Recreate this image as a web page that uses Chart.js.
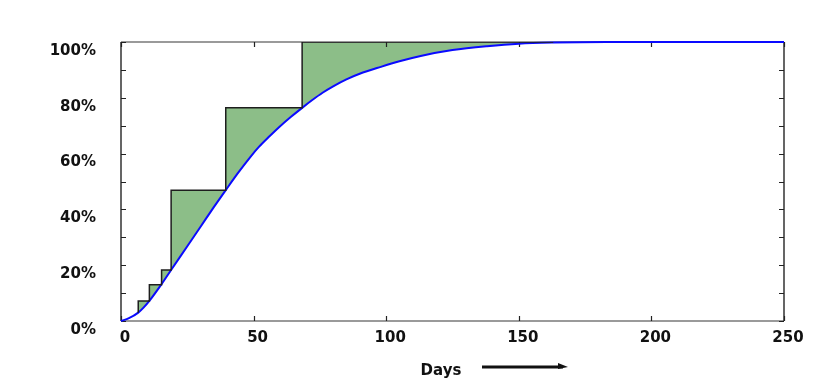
<!DOCTYPE html>
<html>
<head>
<meta charset="utf-8">
<script src="https://cdn.jsdelivr.net/npm/chart.js@4"></script>
<style>
  html, body { margin: 0; background: #fff; }
  #wrap { width: 819px; height: 383px; position: relative; }
</style>
</head>
<body>
<div id="wrap"><canvas id="chart"></canvas></div>
<script>
// cumulative share over time (smooth curve)
const curveDays = [0, 3, 6.5, 8.5, 10.7, 15.3, 18.9, 25, 30, 35, 39.5, 44, 48.6, 52, 56, 60, 64, 68.3,
  72, 76, 80, 85, 90, 98, 105, 113, 125, 138, 150, 163, 183, 250];
const curvePct = [0, 1, 3, 4.8, 7.2, 13.2, 18.3, 26.8, 33.8, 40.8, 46.9, 52.9, 58.6, 62.4, 66.2, 69.8, 73.1, 76.4,
  79.1, 81.8, 84.1, 86.6, 88.6, 91.1, 93.1, 95, 97.1, 98.5, 99.4, 99.8, 100, 100];

// step levels; each level holds from the previous step day up to this one
const stepDays = [6.5, 10.7, 15.3, 18.9, 39.5, 68.3, 163];
const stepPct = [3, 7.2, 13, 18.3, 46.9, 76.4, 100];

const xTicks = [0, 50, 100, 150, 200, 250];
const yLabels = [0, 20, 40, 60, 80, 100];

const FONT = 'DejaVu Sans';

// frame, inward tick marks, axis caption with arrow
const framePlugin = {
  id: 'frame',
  beforeDatasetsDraw(chart) {
    const { ctx, chartArea: a, scales } = chart;
    ctx.save();
    ctx.lineWidth = 1.5;
    ctx.strokeStyle = '#7a7a7a';
    ctx.beginPath();
    ctx.moveTo(a.left, a.top); ctx.lineTo(a.right, a.top);
    ctx.moveTo(a.left, a.bottom); ctx.lineTo(a.right, a.bottom);
    ctx.stroke();
    ctx.strokeStyle = '#333';
    ctx.beginPath();
    ctx.moveTo(a.left, a.top); ctx.lineTo(a.left, a.bottom);
    ctx.moveTo(a.right, a.top); ctx.lineTo(a.right, a.bottom);
    ctx.stroke();

    ctx.lineWidth = 1.2;
    ctx.strokeStyle = '#222';
    ctx.beginPath();
    scales.y.ticks.forEach(t => {
      const y = Math.round(scales.y.getPixelForValue(t.value)) + 0.5;
      ctx.moveTo(a.left, y); ctx.lineTo(a.left + 5, y);
      ctx.moveTo(a.right - 5, y); ctx.lineTo(a.right, y);
    });
    scales.x.ticks.forEach(t => {
      const x = Math.round(scales.x.getPixelForValue(t.value)) + 0.5;
      ctx.moveTo(x, a.bottom); ctx.lineTo(x, a.bottom - 5);
      ctx.moveTo(x, a.top); ctx.lineTo(x, a.top + 5);
    });
    ctx.stroke();
    ctx.restore();
  },
  afterDraw(chart) {
    const { ctx, chartArea: a } = chart;
    const cx = a.left + 320;
    const cy = a.bottom + 50;
    ctx.save();
    ctx.fillStyle = '#111';
    ctx.font = 'bold 15px "' + FONT + '"';
    ctx.textAlign = 'center';
    ctx.textBaseline = 'middle';
    ctx.fillText('Days', cx, cy);
    // arrow
    ctx.strokeStyle = '#111';
    ctx.lineWidth = 3;
    ctx.beginPath();
    ctx.moveTo(cx + 41, cy - 4);
    ctx.lineTo(cx + 122, cy - 4);
    ctx.stroke();
    ctx.beginPath();
    ctx.moveTo(cx + 117, cy - 8);
    ctx.lineTo(cx + 127, cy - 4);
    ctx.lineTo(cx + 117, cy - 2);
    ctx.closePath();
    ctx.fill();
    ctx.restore();
  }
};

new Chart(document.getElementById('chart'), {
  type: 'line',
  data: {
    datasets: [
      {
        label: 'Steps',
        data: stepDays.map((d, i) => ({ x: d, y: stepPct[i] })),
        stepped: 'after',
        borderColor: '#1e1e1e',
        borderWidth: 1.5,
        backgroundColor: '#8cbe88',
        fill: 1,
        pointRadius: 0
      },
      {
        label: 'Cumulative',
        data: curveDays.map((d, i) => ({ x: d, y: curvePct[i] })),
        borderColor: '#0a0aff',
        borderWidth: 2,
        cubicInterpolationMode: 'monotone',
        fill: false,
        pointRadius: 0,
        clip: 4
      }
    ]
  },
  options: {
    responsive: true,
    maintainAspectRatio: false,
    animation: false,
    layout: { padding: { top: 42, right: 35, left: 0, bottom: 0 } },
    plugins: {
      legend: { display: false },
      tooltip: { enabled: false },
      filler: { drawTime: 'beforeDatasetsDraw' }
    },
    scales: {
      x: {
        type: 'linear',
        min: 0,
        max: 250,
        afterBuildTicks: s => { s.ticks = xTicks.map(v => ({ value: v })); },
        afterFit: s => { s.height = 62; },
        grid: { display: false, drawTicks: false },
        border: { display: false },
        ticks: {
          padding: 8,
          labelOffset: 4,
          maxRotation: 0,
          color: '#111',
          font: { family: FONT, size: 15, weight: 'bold' }
        }
      },
      y: {
        min: 0,
        max: 100,
        afterFit: s => { s.width = 121; },
        grid: { display: false, drawTicks: false },
        border: { display: false },
        ticks: {
          stepSize: 10,
          padding: 25,
          labelOffset: 9,
          color: '#111',
          font: { family: FONT, size: 15, weight: 'bold' },
          callback: v => yLabels.includes(v) ? v + '%' : ''
        }
      }
    }
  },
  plugins: [framePlugin]
});
</script>
</body>
</html>
